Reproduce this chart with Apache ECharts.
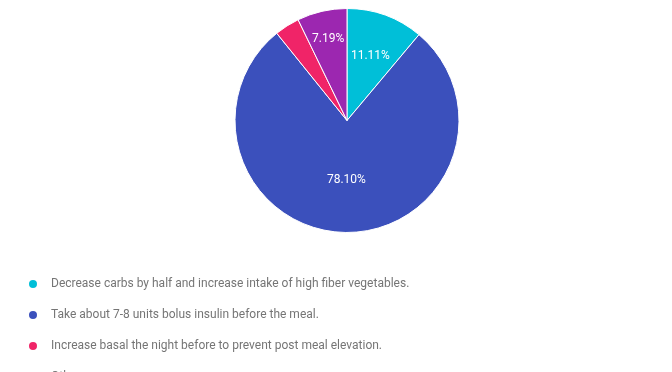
<!DOCTYPE html>
<html><head><meta charset="utf-8">
<script src="https://cdn.jsdelivr.net/npm/echarts@6/dist/echarts.min.js"></script>
<style>html,body{margin:0;padding:0;background:#fff}#c{width:672px;height:372px}</style>
</head><body><div id="c"></div>
<script>
const categories = [
  "Decrease carbs by half and increase intake of high fiber vegetables.",
  "Take about 7-8 units bolus insulin before the meal.",
  "Increase basal the night before to prevent post meal elevation.",
  "Other"
];
const values = [11.11, 78.10, 3.60, 7.19];
const colors = ['#00BFD8', '#3B50BC', '#F02468', '#9C27B0'];
const labelRadius = [68.5, 60, 0, 84];

const CX = 347, CY = 120.5, R = 112;
const chart = echarts.init(document.getElementById('c'), null, {renderer: 'canvas'});
const data = categories.map((n, i) => ({
  name: n, value: values[i],
  itemStyle: {color: colors[i]},
  label: {show: i !== 2}
}));
chart.setOption({
  animation: false,
  legend: {
    orient: 'vertical', left: 27, top: 278, height: 300, padding: 0,
    icon: 'circle', itemWidth: 10, itemHeight: 10, itemGap: 19,
    textStyle: {color: '#757575', fontSize: 12, fontFamily: 'Roboto', padding: [1, 0, 0, 8]},
    data: categories
  },
  series: [{
    type: 'pie', center: [CX, CY], radius: [0, R],
    startAngle: 90, clockwise: true,
    itemStyle: {borderColor: '#fff', borderWidth: 1},
    label: {
      position: 'inside', color: '#fff', fontSize: 12, fontFamily: 'Roboto',
      formatter: p => p.value.toFixed(2) + '%'
    },
    labelLayout: function (p) {
      const r = p.labelRect;
      const lx = r.x + r.width / 2, ly = r.y + r.height / 2;
      const a = Math.atan2(ly - CY, lx - CX);
      const rr = labelRadius[p.dataIndex];
      return {x: CX + rr * Math.cos(a), y: CY + rr * Math.sin(a), align: 'center', verticalAlign: 'middle'};
    },
    emphasis: {disabled: true},
    data: data
  }]
});
</script></body></html>
